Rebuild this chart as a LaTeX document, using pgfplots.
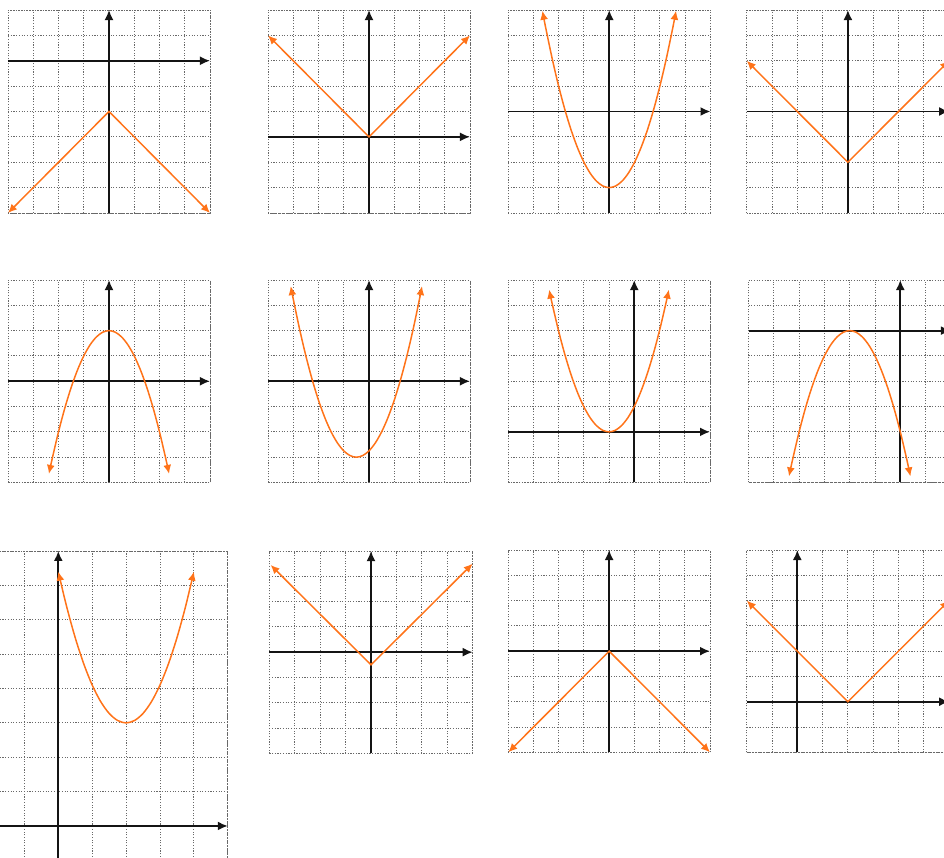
\documentclass[border=0pt]{standalone}
\usepackage{pgfplots}
\pgfplotsset{compat=1.18}
\usetikzlibrary{arrows.meta}
\definecolor{curve}{RGB}{255,115,25}
\definecolor{gridgray}{RGB}{105,105,105}
\definecolor{axblack}{RGB}{20,20,20}
\pgfplotsset{
  panel/.style={scale only axis, clip=false, anchor=south west,
    axis line style={draw=gridgray, line width=0.9pt, dash pattern=on 1.1pt off 1.6pt},
    xmajorgrids, ymajorgrids,
    grid style={draw=gridgray, line width=0.9pt, dash pattern=on 1.1pt off 1.6pt},
    xtick distance=1, ytick distance=1,
    xticklabels={}, yticklabels={}, major tick length=0pt},
  coordax/.style={draw=axblack, line width=1.8pt, -{Latex[length=10pt,width=9pt]}},
  fn/.style={draw=curve, line width=1.5pt, {Latex[length=9pt,width=8pt]}-{Latex[length=9pt,width=8pt]}},
}
\begin{document}
\begin{tikzpicture}[x=1pt,y=1pt]
\useasboundingbox (0,0) rectangle (944,857);
\clip (0,0) rectangle (944,857);
% ---------- Row 1 ----------
\begin{axis}[panel, at={(8pt,644pt)}, width=202pt, height=203pt, xmin=-4, xmax=4, ymin=-6, ymax=2]
\addplot[coordax] coordinates {(-4,0) (4,0)};
\addplot[coordax] coordinates {(0,-6) (0,2)};
\addplot[fn] coordinates {(-4,-6) (0,-2) (4,-6)};
\end{axis}
\begin{axis}[panel, at={(268pt,644pt)}, width=202pt, height=203pt, xmin=-4, xmax=4, ymin=-3, ymax=5]
\addplot[coordax] coordinates {(-4,0) (4,0)};
\addplot[coordax] coordinates {(0,-3) (0,5)};
\addplot[fn] coordinates {(-4,4) (0,0) (4,4)};
\end{axis}
\begin{axis}[panel, at={(508pt,644pt)}, width=202.5pt, height=203pt, xmin=-4, xmax=4, ymin=-4, ymax=4]
\addplot[coordax] coordinates {(-4,0) (4,0)};
\addplot[coordax] coordinates {(0,-4) (0,4)};
\addplot[fn, smooth] coordinates {(-2.64,3.97) (-2.5,3.25) (-2.25,2.0625) (-2,1) (-1.75,0.0625) (-1.5,-0.75) (-1.25,-1.4375) (-1,-2) (-0.75,-2.4375) (-0.5,-2.75) (-0.25,-2.9375) (0,-3) (0.25,-2.9375) (0.5,-2.75) (0.75,-2.4375) (1,-2) (1.25,-1.4375) (1.5,-0.75) (1.75,0.0625) (2,1) (2.25,2.0625) (2.5,3.25) (2.64,3.97)};
\end{axis}
\begin{axis}[panel, at={(746.7pt,644pt)}, width=202.4pt, height=203pt, xmin=-4, xmax=4, ymin=-4, ymax=4]
\addplot[coordax] coordinates {(-4,0) (4,0)};
\addplot[coordax] coordinates {(0,-4) (0,4)};
\addplot[fn] coordinates {(-4,2) (0,-2) (4,2)};
\end{axis}
% ---------- Row 2 ----------
\begin{axis}[panel, at={(8pt,374.5pt)}, width=202pt, height=202.5pt, xmin=-4, xmax=4, ymin=-4, ymax=4]
\addplot[coordax] coordinates {(-4,0) (4,0)};
\addplot[coordax] coordinates {(0,-4) (0,4)};
\addplot[fn, smooth] coordinates {(-2.38,-3.66) (-2.25,-3.0625) (-2,-2) (-1.75,-1.0625) (-1.5,-0.25) (-1.25,0.4375) (-1,1) (-0.75,1.4375) (-0.5,1.75) (-0.25,1.9375) (0,2) (0.25,1.9375) (0.5,1.75) (0.75,1.4375) (1,1) (1.25,0.4375) (1.5,-0.25) (1.75,-1.0625) (2,-2) (2.25,-3.0625) (2.38,-3.66)};
\end{axis}
\begin{axis}[panel, at={(268pt,374.5pt)}, width=202pt, height=202.5pt, xmin=-4, xmax=4, ymin=-4, ymax=4]
\addplot[coordax] coordinates {(-4,0) (4,0)};
\addplot[coordax] coordinates {(0,-4) (0,4)};
\addplot[fn, smooth] coordinates {(-3.1,3.76) (-3,3.25) (-2.75,2.0625) (-2.5,1) (-2.25,0.0625) (-2,-0.75) (-1.75,-1.4375) (-1.5,-2) (-1.25,-2.4375) (-1,-2.75) (-0.75,-2.9375) (-0.5,-3) (-0.25,-2.9375) (0,-2.75) (0.25,-2.4375) (0.5,-2) (0.75,-1.4375) (1,-0.75) (1.25,0.0625) (1.5,1) (1.75,2.0625) (2,3.25) (2.1,3.76)};
\end{axis}
\begin{axis}[panel, at={(508pt,374.5pt)}, width=202pt, height=202.5pt, xmin=-5, xmax=3, ymin=-2, ymax=6]
\addplot[coordax] coordinates {(-5,0) (3,0)};
\addplot[coordax] coordinates {(0,-2) (0,6)};
\addplot[fn, smooth] coordinates {(-3.37,5.62) (-3.25,5.0625) (-3,4) (-2.75,3.0625) (-2.5,2.25) (-2.25,1.5625) (-2,1) (-1.75,0.5625) (-1.5,0.25) (-1.25,0.0625) (-1,0) (-0.75,0.0625) (-0.5,0.25) (-0.25,0.5625) (0,1) (0.25,1.5625) (0.5,2.25) (0.75,3.0625) (1,4) (1.25,5.0625) (1.37,5.62)};
\end{axis}
\begin{axis}[panel, at={(748.5pt,374.5pt)}, width=202.4pt, height=202.5pt, xmin=-6, xmax=2, ymin=-6, ymax=2]
\addplot[coordax] coordinates {(-6,0) (2,0)};
\addplot[coordax] coordinates {(0,-6) (0,2)};
\addplot[fn, smooth] coordinates {(-4.4,-5.76) (-4.25,-5.0625) (-4,-4) (-3.75,-3.0625) (-3.5,-2.25) (-3.25,-1.5625) (-3,-1) (-2.75,-0.5625) (-2.5,-0.25) (-2.25,-0.0625) (-2,0) (-1.75,-0.0625) (-1.5,-0.25) (-1.25,-0.5625) (-1,-1) (-0.75,-1.5625) (-0.5,-2.25) (-0.25,-3.0625) (0,-4) (0.25,-5.0625) (0.4,-5.76)};
\end{axis}
% ---------- Row 3 ----------
\begin{axis}[panel, at={(-43.4pt,-37.7pt)}, width=271.2pt, height=343.7pt, xmin=-3, xmax=5, ymin=-2, ymax=8]
\addplot[coordax] coordinates {(-3,0) (5,0)};
\addplot[coordax] coordinates {(0,-2) (0,8)};
\addplot[fn, smooth] coordinates {(0,7.4) (0.25,6.369) (0.5,5.475) (0.75,4.719) (1,4.1) (1.25,3.619) (1.5,3.275) (1.75,3.069) (2,3) (2.25,3.069) (2.5,3.275) (2.75,3.619) (3,4.1) (3.25,4.719) (3.5,5.475) (3.75,6.369) (4,7.4)};
\end{axis}
\begin{axis}[panel, at={(269.3pt,103.7pt)}, width=203.4pt, height=202.3pt, xmin=-4, xmax=4, ymin=-4, ymax=4]
\addplot[coordax] coordinates {(-4,0) (4,0)};
\addplot[coordax] coordinates {(0,-4) (0,4)};
\addplot[fn] coordinates {(-3.95,3.45) (0,-0.5) (4,3.5)};
\end{axis}
\begin{axis}[panel, at={(508.3pt,104.7pt)}, width=201.7pt, height=202.3pt, xmin=-4, xmax=4, ymin=-4, ymax=4]
\addplot[coordax] coordinates {(-4,0) (4,0)};
\addplot[coordax] coordinates {(0,-4) (0,4)};
\addplot[fn] coordinates {(-4,-4) (0,0) (4,-4)};
\end{axis}
\begin{axis}[panel, at={(746.7pt,104.7pt)}, width=202.4pt, height=202.3pt, xmin=-2, xmax=6, ymin=-2, ymax=6]
\addplot[coordax] coordinates {(-2,0) (6,0)};
\addplot[coordax] coordinates {(0,-2) (0,6)};
\addplot[fn] coordinates {(-2,4) (2,0) (6,4)};
\end{axis}
\end{tikzpicture}
\end{document}
